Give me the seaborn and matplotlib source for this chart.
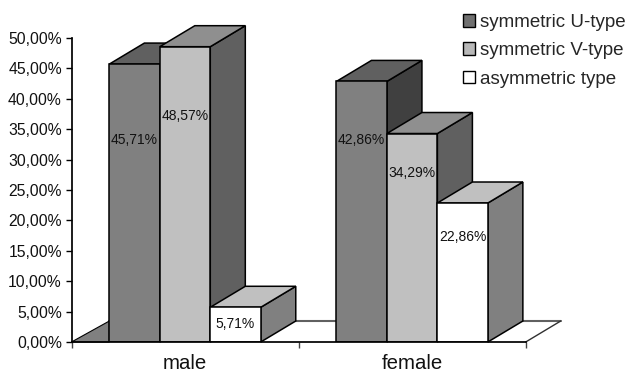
import matplotlib
matplotlib.use('Agg')
import matplotlib.pyplot as plt
from matplotlib.patches import Polygon, Patch
import pandas as pd
import seaborn as sns

categories = ['male', 'female']
types = ['symmetric U-type', 'symmetric V-type', 'asymmetric type']
u_type = [45.71, 42.86]
v_type = [48.57, 34.29]
asym_type = [5.71, 22.86]
y_ticks = [0, 5, 10, 15, 20, 25, 30, 35, 40, 45, 50]

front = ['#808080', '#c0c0c0', '#ffffff']
top = ['#606060', '#8f8f8f', '#c0c0c0']
side = [['#606060', '#606060', '#808080'], ['#404040', '#606060', '#808080']]
legend_colors = ['#707070', '#b8b8b8', '#ffffff']
# label heights as a share of each bar, [type][category]
label_share = [[0.727, 0.775], [0.766, 0.81], [0.52, 0.757]]

W, H = 627, 373
sns.set_theme(style='white')
plt.rcParams['font.family'] = ['Liberation Sans', 'DejaVu Sans']

df = pd.DataFrame({'sex': categories * 3,
                   'type': [t for t in types for _ in categories],
                   'value': u_type + v_type + asym_type})

fig = plt.figure(figsize=(W / 100, H / 100), dpi=100)
ax = fig.add_axes([71.5 / W, 1 - 342 / H, 454.2 / W, 304 / H])

sns.barplot(data=df, x='sex', y='value', hue='type', hue_order=types, order=categories,
            palette=front, edgecolor='black', linewidth=1.1, width=2 / 3, dodge=True,
            legend=False, ax=ax, errorbar=None, zorder=5)
ax.set_xlim(-0.5, 1.5)
ax.set_ylim(0, 50)

# depth of the fake 3D look, in data units
dx = 35 / 227
dy = 21 / 6.08

# top and side faces for each front bar
for t, container in enumerate(ax.containers):
    for g, b in enumerate(container.patches):
        val = b.get_height()
        x0 = b.get_x()
        x1 = x0 + b.get_width()
        z = 4 if val < 10 else 2 + t * 0.5
        ax.add_patch(Polygon([(x1, 0), (x1 + dx, dy), (x1 + dx, val + dy), (x1, val)], closed=True,
                             facecolor=side[g][t], edgecolor='black', linewidth=1.1, clip_on=False, zorder=z))
        ax.add_patch(Polygon([(x0, val), (x0 + dx, val + dy), (x1 + dx, val + dy), (x1, val)], closed=True,
                             facecolor=top[t], edgecolor='black', linewidth=1.1, clip_on=False, zorder=z))
        ax.text(x0 + b.get_width() / 2, val * label_share[t][g], f'{val:.2f}%'.replace('.', ','),
                ha='center', va='center', fontsize=10, color='#111111', zorder=7, clip_on=False)
        # grey wedge of floor left of the first bar, floor lines start from it
        if t == 0 and g == 0:
            ax.add_patch(Polygon([(-0.5, 0), (x0, dy), (x0, 0)], closed=True, facecolor='#808080',
                                 edgecolor='black', linewidth=0.8, clip_on=False, zorder=1.5))
            ax.plot([x0, 1.5 + dx], [dy, dy], color='#606060', lw=1.5, clip_on=False, zorder=1)
            ax.plot([1.5, 1.5 + dx], [0, dy], color='#303030', lw=1, clip_on=False, zorder=1)

ax.set_yticks(y_ticks)
ax.set_yticklabels([f'{v:.2f}%'.replace('.', ',') for v in y_ticks], fontsize=11.3, color='#111111')
ax.set_xticks([-0.5, 0.5, 1.5])
ax.set_xticklabels(['', '', ''])
ax.tick_params(axis='y', length=4, width=1, color='black', pad=3, left=True)
ax.tick_params(axis='x', length=4, width=1, color='#444444', bottom=True)
for pos, name in zip([0, 1], categories):
    ax.text(pos, -3.6, name, ha='center', va='center', fontsize=14.7, color='#111111', clip_on=False)
ax.set_xlabel('')
ax.set_ylabel('')
sns.despine(ax=ax, top=True, right=True)
for s in ['left', 'bottom']:
    ax.spines[s].set_color('black')
    ax.spines[s].set_zorder(6)

handles = [Patch(facecolor=c, edgecolor='black', linewidth=1) for c in legend_colors]
fig.legend(handles, types, loc='upper left', bbox_to_anchor=(463 / W, 1 - 14 / H), frameon=False,
           fontsize=13.5, handlelength=0.64, handleheight=0.64, handletextpad=0.27,
           labelspacing=0.6, borderpad=0, borderaxespad=0)

fig.savefig('out.png', dpi=100)
